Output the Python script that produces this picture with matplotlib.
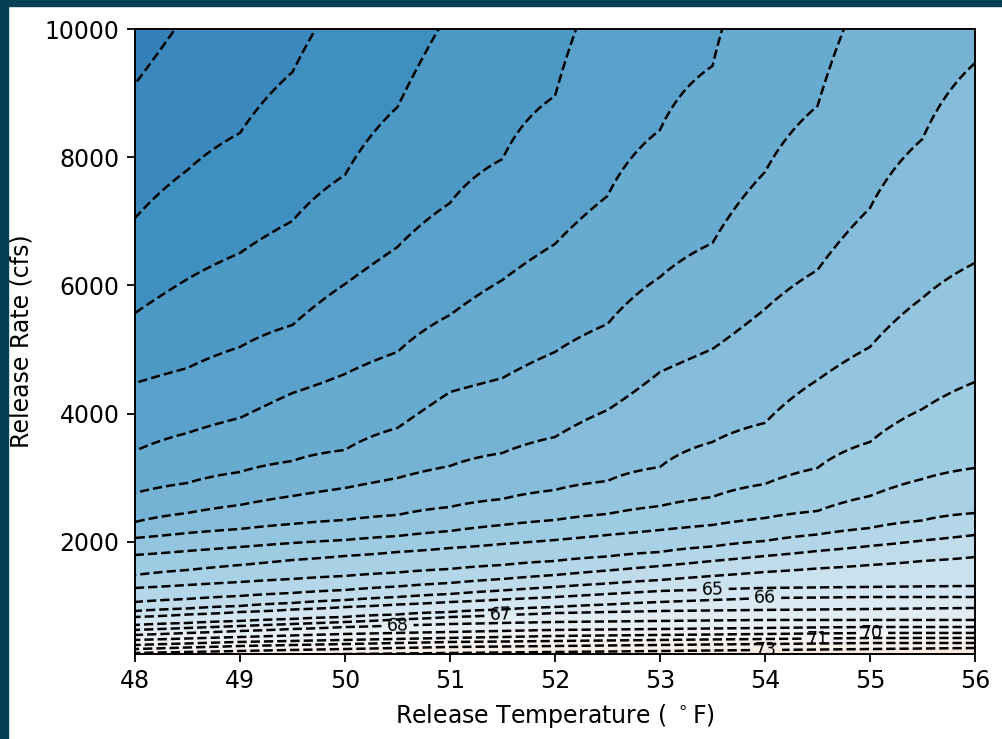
import numpy as np
import matplotlib
matplotlib.use("Agg")
import matplotlib.pyplot as plt
from matplotlib.colors import Normalize
from matplotlib.patches import Rectangle

# ---- data -----------------------------------------------------------------
# Release temperature columns (deg F) at which the isotherms were read
release_temp = [48, 48.5, 49, 49.5, 50, 50.5, 51, 51.5, 52, 52.5,
                53, 53.5, 54, 54.5, 55, 55.5, 56]
# Contour levels (downstream temperature, deg F)
contour_levels = list(range(51, 75))
# Release rate (cfs) at which each isotherm crosses each column
# (None = far outside the plotted window; values >10000 or <250 lie just outside)
q_51 = [11500, 13000, None, None, None, None, None, None, None, None, None, None, None, None, None, None, None]
q_52 = [9142, 10280, 11434, 12791, None, None, None, None, None, None, None, None, None, None, None, None, None]
q_53 = [7052, 7801, 8378, 9329, 10748, 12167, None, None, None, None, None, None, None, None, None, None, None]
q_54 = [5571, 6101, 6507, 7006, 7723, 8783, 10296, 12089, 14000, None, None, None, None, None, None, None, None]
q_55 = [4479, 4713, 5041, 5384, 6023, 6600, 7286, 7972, 8955, 11153, 13415, 15500, None, None, None, None, None]
q_56 = [3419, 3700, 3934, 4323, 4620, 4963, 5540, 6086, 6647, 7395, 8425, 9423, 11590, 13571, None, None, None]
q_57 = [2764, 2920, 3091, 3263, 3435, 3778, 4339, 4557, 4963, 5399, 6132, 6662, 7770, 8799, 10920, 13259, 15600]
q_58 = [2312, 2452, 2577, 2717, 2842, 2998, 3185, 3388, 3637, 4058, 4651, 5010, 5633, 6241, 7208, 8284, 9469]
q_59 = [2062, 2140, 2203, 2281, 2343, 2421, 2546, 2670, 2811, 2951, 3169, 3559, 3856, 4526, 5041, 5805, 6351]
q_60 = [1797, 1860, 1922, 1984, 2031, 2093, 2171, 2265, 2343, 2437, 2561, 2702, 2904, 3154, 3559, 4074, 4495]
q_61 = [1485, 1563, 1641, 1719, 1782, 1844, 1906, 1969, 2031, 2109, 2187, 2265, 2374, 2483, 2717, 2982, 3154]
q_62 = [1283, 1329, 1376, 1423, 1470, 1524, 1579, 1641, 1704, 1774, 1844, 1930, 2016, 2117, 2218, 2335, 2452]
q_63 = [1064, 1111, 1158, 1205, 1251, 1306, 1361, 1423, 1485, 1555, 1626, 1704, 1782, 1860, 1938, 2023, 2109]
q_64 = [924, 963, 1002, 1049, 1095, 1142, 1189, 1244, 1298, 1353, 1407, 1470, 1532, 1587, 1641, 1704, 1766]
q_65 = [830, 869, 908, 947, 986, 1025, 1064, 1103, 1142, 1189, 1236, 1259, 1283, 1290, 1298, 1306, 1314]
q_66 = [706, 737, 768, 799, 830, 869, 908, 947, 986, 1025, 1064, 1095, 1127, 1134, 1142, 1142, 1142]
q_67 = [628, 659, 690, 721, 752, 791, 830, 862, 893, 908, 924, 932, 940, 947, 955, 963, 971]
q_68 = [550, 581, 612, 643, 674, 698, 721, 737, 752, 760, 768, 776, 784, 784, 784, 784, 784]
q_69 = [472, 495, 518, 542, 565, 581, 596, 612, 628, 635, 643, 651, 659, 667, 674, 674, 674]
q_70 = [394, 417, 441, 456, 472, 487, 503, 518, 534, 542, 550, 557, 565, 573, 581, 581, 581]
q_71 = [331, 355, 378, 394, 409, 425, 441, 448, 456, 464, 472, 480, 487, 495, 503, 503, 503]
q_72 = [269, 285, 300, 316, 331, 347, 363, 370, 378, 386, 394, 402, 409, 417, 425, 425, 425]
q_73 = [207, 218, 230, 241, 253, 261, 269, 277, 285, 292, 300, 308, 316, 323, 331, 339, 347]
q_74 = [150, 155, 160, 165, 170, 175, 180, 185, 190, 195, 200, 205, 210, 215, 220, 230, 240]

# labelled isotherms: where their labels sit (temp, flow)
label_temp = [53.50, 54.00, 51.48, 50.50, 55.02, 54.50, 54.01]
label_flow = [1298, 1142, 862, 705, 627, 518, 316]

tick_temp = [48, 49, 50, 51, 52, 53, 54, 55, 56]
tick_flow = [2000, 4000, 6000, 8000, 10000]
# ---------------------------------------------------------------------------

crossings = [q_51, q_52, q_53, q_54, q_55, q_56, q_57, q_58, q_59, q_60, q_61,
             q_62, q_63, q_64, q_65, q_66, q_67, q_68, q_69, q_70, q_71, q_72,
             q_73, q_74]

flow_grid = np.linspace(150, 11500, 1200)
Z = np.empty((flow_grid.size, len(release_temp)))
for j in range(len(release_temp)):
    pts = sorted((row[j], lev) for lev, row in zip(contour_levels, crossings)
                 if row[j] is not None)
    qs, ls = zip(*pts)
    Z[:, j] = np.interp(flow_grid, qs, ls)

W, H = 1002, 739
fig = plt.figure(figsize=(W / 100, H / 100), dpi=100)
fig.patch.set_facecolor("white")
ax = fig.add_axes([135 / W, 1 - 654.2 / H, (975 - 135) / W, (654.2 - 29) / H])

norm = Normalize(vmin=42.5, vmax=99.0)
ax.contourf(release_temp, flow_grid, Z, levels=contour_levels,
            cmap="RdBu_r", norm=norm)
cs = ax.contour(release_temp, flow_grid, Z, levels=contour_levels[1:-1],
                colors="k", linestyles="dashed", linewidths=1.8)
ax.clabel(cs, inline=True, fontsize=12.5, fmt="%d",
          manual=list(zip(label_temp, label_flow)))

ax.set_xlim(48, 56)
ax.set_ylim(250, 10000)
ax.set_xticks(tick_temp)
ax.set_yticks(tick_flow)
ax.tick_params(labelsize=17, length=6, width=1.3, pad=5)
for sp in ax.spines.values():
    sp.set_linewidth(1.4)
ax.set_xlabel("Release Temperature ( $^\\circ$F)", fontsize=17, labelpad=6)
ax.set_ylabel("Release Rate (cfs)", fontsize=17, labelpad=8)

border = "#053f55"
fig.patches.append(Rectangle((0, 0), 8 / W, 1, transform=fig.transFigure,
                             color=border, zorder=10))
fig.patches.append(Rectangle((0, 1 - 6 / H), 1, 6 / H, transform=fig.transFigure,
                             color=border, zorder=10))

fig.savefig("out.png", dpi=100)
